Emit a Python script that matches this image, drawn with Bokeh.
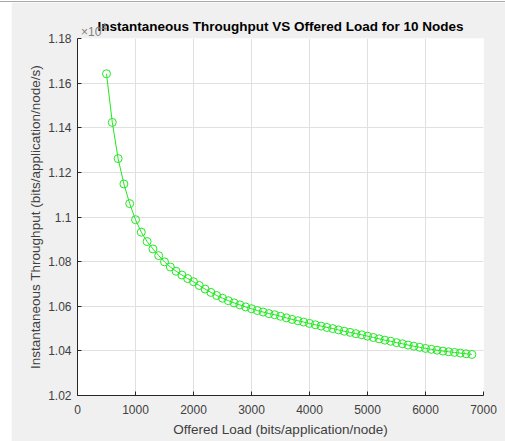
from bokeh.plotting import figure
from bokeh.embed import file_html
from bokeh.resources import INLINE
from bokeh.models import ColumnDataSource, CustomJSTickFormatter, FixedTicker, Range1d, Spacer, Div
from bokeh.layouts import row, column

# Offered load (bits/application/node)
offered_load = list(range(500, 6900, 100))

# Instantaneous throughput (bits/application/node/s)
throughput = [
    11642, 11424, 11262, 11148, 11060, 10988, 10932, 10890, 10857, 10827,
    10799, 10776, 10757, 10740, 10724, 10710, 10693, 10677, 10662, 10648,
    10636, 10625, 10615, 10606, 10597, 10589, 10581, 10574, 10567, 10562,
    10555, 10548, 10541, 10535, 10529, 10523, 10517, 10511, 10505, 10500,
    10494, 10488, 10483, 10477, 10472, 10466, 10460, 10454, 10448, 10443,
    10437, 10432, 10426, 10421, 10416, 10411, 10407, 10403, 10399, 10396,
    10393, 10390, 10387, 10384,
]

x_ticks = [0, 1000, 2000, 3000, 4000, 5000, 6000, 7000]
y_ticks = [10200, 10400, 10600, 10800, 11000, 11200, 11400, 11600, 11800]

title_text = "Instantaneous Throughput VS Offered Load for 10 Nodes"
x_label = "Offered Load (bits/application/node)"
y_label = "Instantaneous Throughput (bits/application/node/s)"
exponent_text = "×10<sup>4</sup>"

FONT = "Liberation Sans"
BG = "#f0f0f0"
TXT = "#404040"
GREEN = "#22e822"

src = ColumnDataSource(dict(x=offered_load, y=throughput))

p = figure(width=494, height=439, output_backend="svg", toolbar_location=None,
           x_range=Range1d(0, 7000), y_range=Range1d(10200, 11800),
           min_border_left=66, min_border_right=22, min_border_top=36, min_border_bottom=46)

p.background_fill_color = "white"
p.border_fill_color = BG
p.outline_line_color = None

p.title.text = title_text
p.title.align = "center"
p.title.offset = -12
p.title.text_font = FONT
p.title.text_font_size = "13.5px"
p.title.text_font_style = "bold"
p.title.text_color = "black"
p.title.standoff = 9

p.line("x", "y", source=src, line_color=GREEN, line_width=1)
p.scatter("x", "y", source=src, marker="circle", size=8, fill_color=None,
          line_color=GREEN, line_width=1)

for ax in (p.xaxis[0], p.yaxis[0]):
    ax.axis_line_color = "#262626"
    ax.major_tick_line_color = "#262626"
    ax.major_tick_in = 4
    ax.major_tick_out = 0
    ax.minor_tick_line_color = None
    ax.major_label_text_font = FONT
    ax.major_label_text_font_size = "12px"
    ax.major_label_text_color = TXT
    ax.axis_label_text_font = FONT
    ax.axis_label_text_font_size = "13.5px"
    ax.axis_label_text_font_style = "normal"
    ax.axis_label_text_color = TXT

p.xaxis.ticker = FixedTicker(ticks=x_ticks)
p.yaxis.ticker = FixedTicker(ticks=y_ticks)
p.yaxis.formatter = CustomJSTickFormatter(code="return String(parseFloat((tick/1e4).toFixed(4)));")
p.xaxis.axis_label = x_label
p.yaxis.axis_label = y_label
p.xaxis.major_label_standoff = 9
p.yaxis.major_label_standoff = 6
p.xaxis.axis_label_standoff = 5
p.yaxis.axis_label_standoff = 2

p.xgrid.grid_line_color = "#e0e0e0"
p.ygrid.grid_line_color = "#e0e0e0"

exponent = Div(text=exponent_text, width=30, height=16,
               styles={"position": "absolute", "left": "76px", "top": "15px",
                       "font-family": FONT, "font-size": "12px", "color": "#808080",
                       "line-height": "16px", "z-index": "0"})

top_line = Spacer(width=505, height=1, styles={"background-color": "#a8a8a8"})
top_gap = Spacer(width=505, height=1)
layout = column(top_gap, top_line, row(Spacer(width=11, height=439), p), exponent)

open("out.html", "w").write(file_html(layout, INLINE))
